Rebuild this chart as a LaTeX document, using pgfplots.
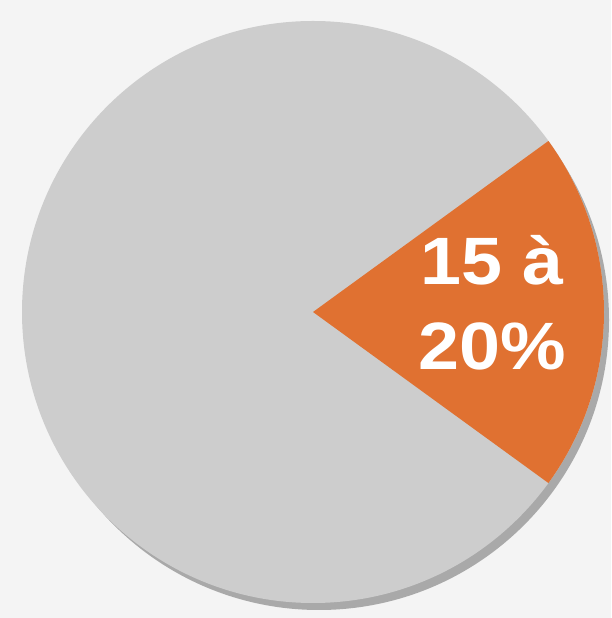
\documentclass[border=0pt]{standalone}
\usepackage{pgfplots}
\usepackage{pgfplotstable}
\pgfplotsset{compat=1.18}
\usepackage{fontspec}
\newfontfamily\labelfont{Liberation Sans}
\definecolor{bg}{HTML}{F4F4F4}
\definecolor{pgray}{HTML}{CDCDCD}
\definecolor{sgray}{HTML}{A9A9A9}
\definecolor{porange}{HTML}{E07131}
\pgfplotstableread{
slice share
autre 80
cible 20
}\pietable
\begin{document}
\begin{tikzpicture}
\begin{axis}[
  x=1pt, y=1pt, scale only axis,
  xmin=0, xmax=611, ymin=0, ymax=618,
  hide axis, clip=false,
]
\pgfplotstablegetelem{1}{share}\of\pietable
\pgfmathsetmacro\half{\pgfplotsretval*3.6/2}
\fill[bg] (axis cs:0,0) rectangle (axis cs:611,618);
\fill[sgray] (axis cs:319,298) circle[radius=290pt];
\fill[pgray] (axis cs:313,306) circle[radius=291pt];
\fill[porange] (axis cs:313,306) -- ++(-\half:291pt) arc[start angle=-\half, end angle=\half, radius=291pt] -- cycle;
\node[text=white, align=center, xscale=1.1, font=\labelfont\bfseries\fontsize{67}{85}\selectfont] at (axis cs:492,315) {15 à\\20\%};
\end{axis}
\pgfresetboundingbox
\path (current axis.south west) rectangle (current axis.north east);
\end{tikzpicture}
\end{document}
